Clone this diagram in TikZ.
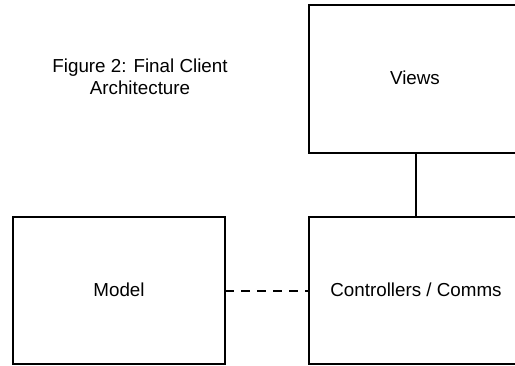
\documentclass[tikz,border=0pt]{standalone}
\usepackage{fontspec}
\setmainfont{Liberation Sans}
\begin{document}
\begin{tikzpicture}[x=1pt,y=-1pt,
  blk/.style={draw=black,line width=2pt,fill=white},
  lbl/.style={font=\fontsize{18.8}{22}\selectfont,align=center},
  link/.style={draw=black,line width=2pt}]
\useasboundingbox (0,0) rectangle (515,366);
\clip (0,0) rectangle (515,366);
\fill[white] (0,0) rectangle (515,366);
\draw[blk] (309,5) rectangle (521,153);
\draw[blk] (309,217) rectangle (521,364);
\draw[blk] (13,217) rectangle (225,364);
\node[lbl] (views) at (415,78) {Views};
\node[lbl] (ctrl) at (416,290) {Controllers / Comms};
\node[lbl] (model) at (119,290) {Model};
\node[lbl] (title) at (140,77) {Figure 2: Final Client\\Architecture};
\coordinate (vb) at (415.5,153);
\coordinate (ct) at (415.5,217);
\coordinate (mr) at (225,291);
\coordinate (cl) at (309,291);
\draw[link] (vb) -- (ct);
\draw[link,dash pattern=on 9pt off 7pt] (mr) -- (cl);
\end{tikzpicture}
\end{document}
